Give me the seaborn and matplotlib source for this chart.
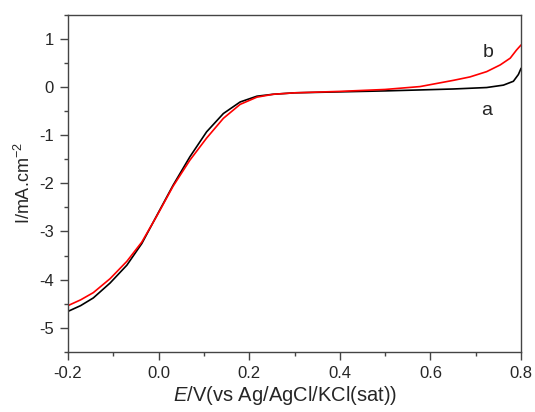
import pandas as pd
import seaborn as sns
import matplotlib.pyplot as plt
from matplotlib.ticker import MultipleLocator

# curve a (black)
E_a = [-0.2, -0.172, -0.144, -0.107, -0.070, -0.037, -0.004, 0.032, 0.069, 0.106,
       0.143, 0.180, 0.217, 0.253, 0.30, 0.40, 0.50, 0.577, 0.651, 0.724, 0.761,
       0.783, 0.794, 0.80]
I_a = [-4.66, -4.54, -4.38, -4.07, -3.70, -3.25, -2.67, -2.04, -1.45, -0.93,
       -0.55, -0.31, -0.19, -0.15, -0.12, -0.10, -0.08, -0.06, -0.04, -0.01, 0.04,
       0.12, 0.26, 0.39]

# curve b (red)
E_b = [-0.2, -0.172, -0.144, -0.107, -0.070, -0.037, -0.004, 0.032, 0.069, 0.106,
       0.143, 0.180, 0.217, 0.253, 0.30, 0.40, 0.50, 0.577, 0.651, 0.687, 0.724,
       0.754, 0.776, 0.790, 0.80]
I_b = [-4.54, -4.42, -4.27, -3.98, -3.62, -3.22, -2.68, -2.06, -1.52, -1.06,
       -0.65, -0.36, -0.21, -0.15, -0.12, -0.09, -0.05, 0.01, 0.14, 0.21, 0.32,
       0.46, 0.60, 0.77, 0.875]

xticks = [-0.2, 0.0, 0.2, 0.4, 0.6, 0.8]
yticks = [-5, -4, -3, -2, -1, 0, 1]

df = pd.concat([
    pd.DataFrame({"E": E_a, "I": I_a, "curve": "a"}),
    pd.DataFrame({"E": E_b, "I": I_b, "curve": "b"}),
])

sns.set_style("ticks")
plt.rcParams["font.family"] = ["Liberation Sans", "DejaVu Sans"]
plt.rcParams["mathtext.fontset"] = "custom"
plt.rcParams["mathtext.rm"] = "Liberation Sans"
plt.rcParams["mathtext.it"] = "Liberation Sans:italic"

fig = plt.figure(figsize=(5.35, 4.12), dpi=100)
ax = fig.add_axes([0.127, 0.146, 0.847, 0.818])

sns.lineplot(data=df, x="E", y="I", hue="curve", palette={"a": "black", "b": "red"},
             linewidth=1.2, legend=False, ax=ax, sort=False)

ax.set_xlim(-0.2, 0.8)
ax.set_ylim(-5.5, 1.5)
ax.set_xticks(xticks)
ax.set_xticklabels([f"{v:.1f}" for v in xticks])
ax.set_yticks(yticks)
ax.set_yticklabels([str(v) for v in yticks])
ax.xaxis.set_minor_locator(MultipleLocator(0.1))
ax.yaxis.set_minor_locator(MultipleLocator(0.5))

for s in ax.spines.values():
    s.set_color("#444444")
    s.set_linewidth(1.0)
ax.tick_params(which="major", length=6, width=1, color="#444444", labelsize=12,
               direction="out", pad=4)
ax.tick_params(which="minor", length=3, width=1, color="#444444", direction="out")

ax.set_xlabel("$E$/V(vs Ag/AgCl/KCl(sat))", fontsize=14.5, labelpad=2)
ax.xaxis.set_label_coords(0.48, -0.095)
ax.set_ylabel("I/mA.cm$^{-2}$", fontsize=13, labelpad=4)

ax.text(0.727, 0.71, "b", fontsize=14, ha="center", va="center")
ax.text(0.725, -0.48, "a", fontsize=14, ha="center", va="center")

fig.savefig("out.png", dpi=100)
